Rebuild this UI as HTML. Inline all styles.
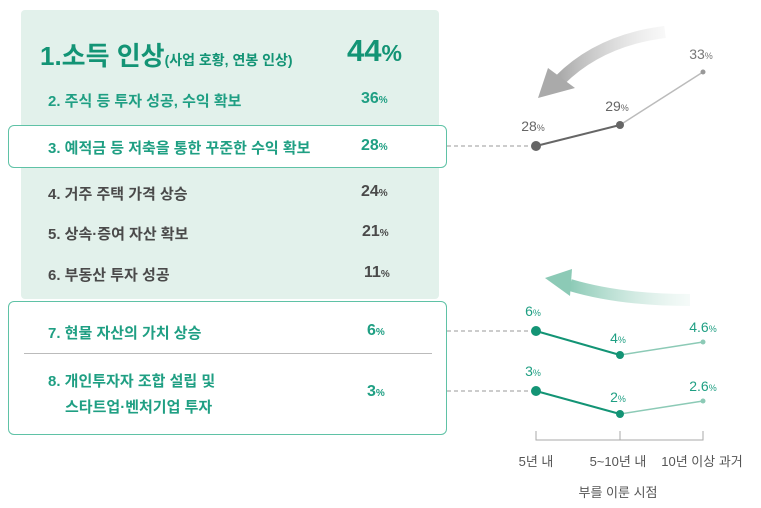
<!DOCTYPE html>
<html><head><meta charset="utf-8"><style>
body{margin:0;width:761px;height:508px;background:#fff;position:relative;overflow:hidden;font-family:"Liberation Sans","Noto Sans CJK KR",sans-serif;}
.a{position:absolute;white-space:nowrap;font-weight:bold;}
.t{font-size:15px;}
.p{font-size:16px;}
.p small{font-size:10px;}
.g{color:#4a4a4a}.c{color:#1f9f83}
</style></head><body>
<div style="position:absolute;left:21px;top:10px;width:418px;height:289px;background:#e2f1eb;border-radius:4px"></div>
<div style="position:absolute;left:8px;top:125px;width:437px;height:41px;background:#fff;border:1.3px solid #5fc2a6;border-radius:6px"></div>
<div style="position:absolute;left:8px;top:301px;width:437px;height:132px;background:#fff;border:1.3px solid #5fc2a6;border-radius:6px"></div>
<div style="position:absolute;left:24px;top:353px;width:408px;height:1px;background:#bbb"></div>

<div class="a c" style="left:40px;top:36px;font-size:26px;color:#139475">1.소득 인상<span style="font-size:14px">(사업 호황, 연봉 인상)</span></div>
<div class="a c" style="left:347px;top:33px;font-size:31px;color:#139475">44<span style="font-size:23px">%</span></div>

<div class="a t c" style="left:48px;top:90px">2. 주식 등 투자 성공, 수익 확보</div>
<div class="a p c" style="left:361px;top:90px">36<small>%</small></div>
<div class="a t c" style="left:48px;top:137px">3. 예적금 등 저축을 통한 꾸준한 수익 확보</div>
<div class="a p c" style="left:361px;top:137px">28<small>%</small></div>
<div class="a t g" style="left:48px;top:183px">4. 거주 주택 가격 상승</div>
<div class="a p g" style="left:361px;top:183px">24<small>%</small></div>
<div class="a t g" style="left:48px;top:223px">5. 상속·증여 자산 확보</div>
<div class="a p g" style="left:362px;top:223px">21<small>%</small></div>
<div class="a t g" style="left:48px;top:264px">6. 부동산 투자 성공</div>
<div class="a p g" style="left:364px;top:264px">11<small>%</small></div>
<div class="a t c" style="left:48px;top:322px">7. 현물 자산의 가치 상승</div>
<div class="a p c" style="left:367px;top:322px">6<small>%</small></div>
<div class="a t c" style="left:48px;top:370px">8. 개인투자자 조합 설립 및</div>
<div class="a t c" style="left:65px;top:396px">스타트업·벤처기업 투자</div>
<div class="a p c" style="left:367px;top:383px">3<small>%</small></div>

<svg width="761" height="508" style="position:absolute;left:0;top:0" font-family="Liberation Sans, Noto Sans CJK KR, sans-serif">
<defs>
<linearGradient id="ga" x1="1" y1="0" x2="0" y2="0"><stop offset="0" stop-color="#ddd" stop-opacity="0.2"/><stop offset="1" stop-color="#aaa"/></linearGradient>
<linearGradient id="gb" x1="1" y1="0" x2="0" y2="0"><stop offset="0" stop-color="#cfe9e0" stop-opacity="0.2"/><stop offset="1" stop-color="#8ccab6"/></linearGradient>
</defs>
<path d="M665 32 Q600 40 560 80" stroke="url(#ga)" stroke-width="12" fill="none"/>
<polygon points="538,98 548,68 575,88" fill="#aaa"/>
<path d="M690 300 Q620 300 570 285" stroke="url(#gb)" stroke-width="12" fill="none"/>
<polygon points="545,278 572,269 570,296" fill="#8ccab6"/>
<g stroke="#999" stroke-dasharray="4,3" stroke-width="1">
<line x1="447" y1="146" x2="534" y2="146"/><line x1="447" y1="331" x2="534" y2="331"/><line x1="447" y1="391" x2="534" y2="391"/></g>
<polyline points="536,146 620,125" stroke="#666" stroke-width="2" fill="none"/>
<line x1="620" y1="125" x2="703" y2="72" stroke="#bbb" stroke-width="1.5"/>
<circle cx="536" cy="146" r="5" fill="#666"/><circle cx="620" cy="125" r="4" fill="#666"/><circle cx="703" cy="72" r="2.5" fill="#999"/>
<polyline points="536,331 620,355" stroke="#139475" stroke-width="2" fill="none"/>
<line x1="620" y1="355" x2="703" y2="342" stroke="#8ccab6" stroke-width="1.5"/>
<circle cx="536" cy="331" r="5" fill="#139475"/><circle cx="620" cy="355" r="4" fill="#139475"/><circle cx="703" cy="342" r="2.5" fill="#8ccab6"/>
<polyline points="536,391 620,414" stroke="#139475" stroke-width="2" fill="none"/>
<line x1="620" y1="414" x2="703" y2="401" stroke="#8ccab6" stroke-width="1.5"/>
<circle cx="536" cy="391" r="5" fill="#139475"/><circle cx="620" cy="414" r="4" fill="#139475"/><circle cx="703" cy="401" r="2.5" fill="#8ccab6"/>
<g font-size="14" text-anchor="middle">
<text x="533" y="131" fill="#666">28<tspan font-size="9">%</tspan></text>
<text x="617" y="111" fill="#666">29<tspan font-size="9">%</tspan></text>
<text x="701" y="59" fill="#777">33<tspan font-size="9">%</tspan></text>
<text x="533" y="316" fill="#1f9f83">6<tspan font-size="9">%</tspan></text>
<text x="618" y="343" fill="#1f9f83">4<tspan font-size="9">%</tspan></text>
<text x="703" y="332" fill="#1f9f83">4.6<tspan font-size="9">%</tspan></text>
<text x="533" y="376" fill="#1f9f83">3<tspan font-size="9">%</tspan></text>
<text x="618" y="402" fill="#1f9f83">2<tspan font-size="9">%</tspan></text>
<text x="703" y="391" fill="#1f9f83">2.6<tspan font-size="9">%</tspan></text>
</g>
<path d="M536 431 V440 H703 V431 M620 431 V440" stroke="#aaa" stroke-width="1" fill="none"/>
<g font-size="13" fill="#555" text-anchor="middle">
<text x="536" y="466">5년 내</text><text x="618" y="466">5~10년 내</text><text x="702" y="466">10년 이상 과거</text>
<text x="618" y="497">부를 이룬 시점</text></g>
</svg>
</body></html>
